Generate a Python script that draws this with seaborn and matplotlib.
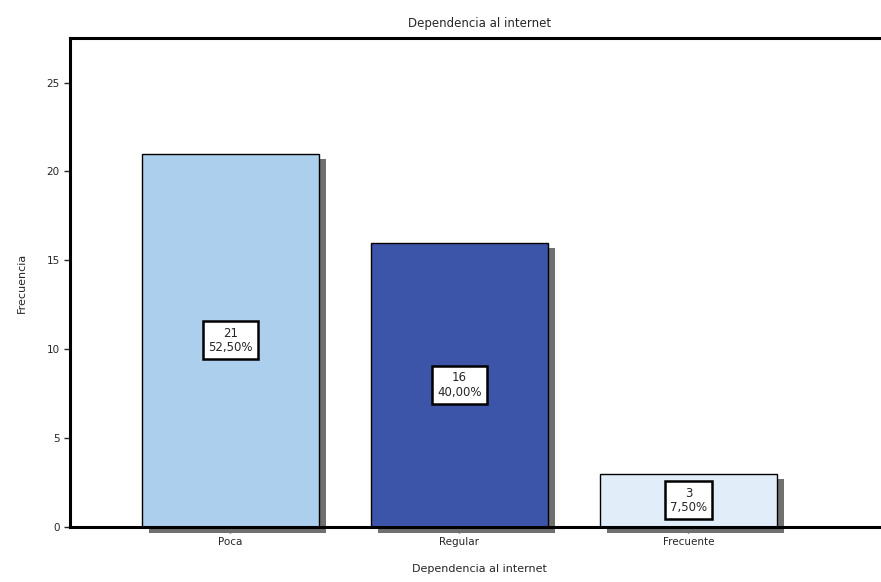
import numpy as np
import pandas as pd
import matplotlib
matplotlib.use("Agg")
import matplotlib.pyplot as plt
import matplotlib.patheffects as pe
import seaborn as sns

categorias = ["Poca", "Regular", "Frecuente"]
frecuencias = [21, 16, 3]
porcentajes = ["52,50%", "40,00%", "7,50%"]
colores = ["#abcfec", "#3c55a8", "#e1eefa"]

titulo = "Dependencia al internet"
eje_x = "Dependencia al internet"
eje_y = "Frecuencia"

sns.set_style("white")
plt.rcParams["font.family"] = ["DejaVu Sans"]

df = pd.DataFrame({"cat": categorias, "n": frecuencias})

fig = plt.figure(figsize=(8.81, 5.82), dpi=100)
ax = fig.add_axes([0.0795, 0.0945, 0.93, 0.84])

sns.barplot(data=df, x="cat", y="n", hue="cat", palette=colores, legend=False,
            width=0.77, edgecolor="black", linewidth=1.0, saturation=1, ax=ax)

# sombra gris a la derecha y abajo, como en el grafico original
for p in ax.patches:
    p.set_clip_on(False)
    p.set_path_effects([pe.SimplePatchShadow(offset=(5, -4), shadow_rgbFace="#707070", alpha=1.0),
                        pe.Normal()])

for i, (n, pct) in enumerate(zip(frecuencias, porcentajes)):
    ax.text(i, n / 2, f"{n}\n{pct}", ha="center", va="center", fontsize=8.5,
            linespacing=1.15,
            bbox=dict(boxstyle="square,pad=0.45", facecolor="white",
                      edgecolor="black", linewidth=1.8))

ax.set_xlim(-0.70, 2.877)
ax.set_ylim(0, 27.5)
ax.set_yticks([0, 5, 10, 15, 20, 25])
ax.tick_params(axis="both", direction="out", length=4, width=1, labelsize=7.5,
               left=True, bottom=True)
for s in ax.spines.values():
    s.set_linewidth(2.2)
    s.set_color("black")
ax.spines["right"].set_visible(False)
ax.spines["bottom"].set_zorder(5)

ax.set_xlabel(eje_x, fontsize=8, labelpad=12)
ax.set_ylabel(eje_y, fontsize=8, labelpad=14)
ax.set_title(titulo, fontsize=8.5, pad=8)

plt.savefig("out.png", dpi=100)
plt.close()
